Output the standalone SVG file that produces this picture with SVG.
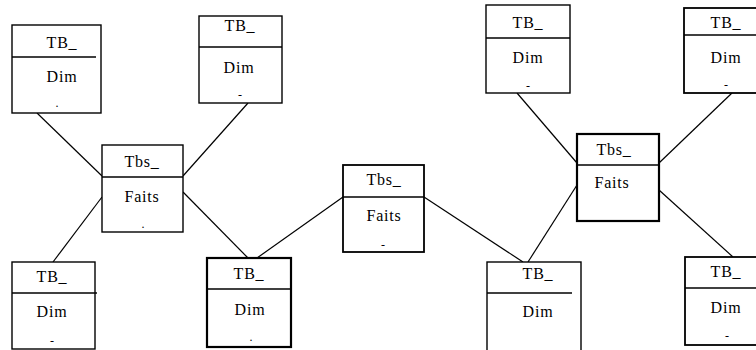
<svg xmlns="http://www.w3.org/2000/svg" width="756" height="350" viewBox="0 0 756 350">
<style>
.box{fill:#fff;stroke:#000;stroke-width:1.4}
.thick{stroke-width:2.2}
.mid{stroke-width:1.8}
.div{stroke:#000;stroke-width:1.6}
.t{font-family:"Liberation Serif","Times New Roman","DejaVu Serif",serif;font-size:16px;letter-spacing:0.8px;text-anchor:middle;fill:#000}
.s{font-family:"Liberation Serif","Times New Roman","DejaVu Serif",serif;font-size:12px;text-anchor:middle;fill:#000}
.c{stroke:#000;stroke-width:1.2;fill:none}
</style>
<rect width="756" height="350" fill="#fff"/>
<g id="connectors">
<line class="c" x1="37" y1="113" x2="102" y2="176"/>
<line class="c" x1="248" y1="103" x2="183" y2="176"/>
<line class="c" x1="53" y1="262" x2="102" y2="197"/>
<line class="c" x1="183" y1="192" x2="248" y2="258"/>
<line class="c" x1="257" y1="258" x2="343" y2="197"/>
<line class="c" x1="424" y1="197" x2="523" y2="262"/>
<line class="c" x1="528" y1="262" x2="577" y2="185"/>
<line class="c" x1="517" y1="93" x2="577" y2="163"/>
<line class="c" x1="732" y1="93" x2="659" y2="163"/>
<line class="c" x1="659" y1="190" x2="733" y2="257"/>
</g>
<g id="n1">
<rect class="box" x="12" y="25" width="89" height="88"/>
<line class="div" x1="12" y1="57" x2="96" y2="57"/>
<text class="t" x="62" y="48">TB_</text>
<text class="t" x="62" y="82">Dim</text>
<text class="s" x="57" y="107">.</text>
</g>
<g id="n2">
<rect class="box" x="199" y="16" width="83" height="87"/>
<line class="div" x1="199" y1="47" x2="282" y2="47"/>
<text class="t" x="240" y="31">TB_</text>
<text class="t" x="239" y="73">Dim</text>
<text class="s" x="240" y="99">-</text>
</g>
<g id="n3">
<rect class="box" x="102" y="145" width="81" height="87"/>
<line class="div" x1="102" y1="177" x2="183" y2="177"/>
<text class="t" x="142" y="167">Tbs_</text>
<text class="t" x="142" y="202">Faits</text>
<text class="s" x="143" y="228">.</text>
</g>
<g id="n4">
<rect class="box" x="12" y="262" width="83" height="87"/>
<line class="div" x1="12" y1="293" x2="97" y2="293"/>
<text class="t" x="52" y="282">TB_</text>
<text class="t" x="52" y="317">Dim</text>
<text class="s" x="52" y="345">-</text>
</g>
<g id="n5">
<rect class="box thick" x="207" y="258" width="84" height="89"/>
<line class="div" x1="207" y1="289" x2="291" y2="289"/>
<text class="t" x="249" y="279">TB_</text>
<text class="t" x="250" y="315">Dim</text>
<text class="s" x="251" y="341">.</text>
</g>
<g id="n6">
<rect class="box mid" x="343" y="165" width="81" height="87"/>
<line class="div" x1="343" y1="197" x2="424" y2="197"/>
<text class="t" x="384" y="185">Tbs_</text>
<text class="t" x="384" y="221">Faits</text>
<text class="s" x="383" y="249">-</text>
</g>
<g id="n7">
<rect class="box" x="486" y="5" width="84" height="88"/>
<line class="div" x1="486" y1="38" x2="570" y2="38"/>
<text class="t" x="528" y="28">TB_</text>
<text class="t" x="528" y="63">Dim</text>
<text class="s" x="528" y="90">-</text>
</g>
<g id="n8">
<rect class="box thick" x="577" y="134" width="82" height="87"/>
<line class="div" x1="577" y1="165" x2="659" y2="165"/>
<text class="t" x="614" y="155">Tbs_</text>
<text class="t" x="612" y="188">Faits</text>
</g>
<g id="n9">
<rect class="box mid" x="684" y="8" width="84" height="85"/>
<line class="div" x1="684" y1="35" x2="768" y2="35"/>
<text class="t" x="726" y="28">TB_</text>
<text class="t" x="726" y="63">Dim</text>
<text class="s" x="726" y="89">-</text>
</g>
<g id="n10">
<rect class="box" x="487" y="262" width="94" height="92"/>
<line class="div" x1="487" y1="293" x2="572" y2="293"/>
<text class="t" x="538" y="279">TB_</text>
<text class="t" x="538" y="317">Dim</text>
</g>
<g id="n11">
<rect class="box mid" x="685" y="257" width="84" height="88"/>
<line class="div" x1="685" y1="288" x2="769" y2="288"/>
<text class="t" x="726" y="277">TB_</text>
<text class="t" x="726" y="313">Dim</text>
<text class="s" x="727" y="340">-</text>
</g>
</svg>
